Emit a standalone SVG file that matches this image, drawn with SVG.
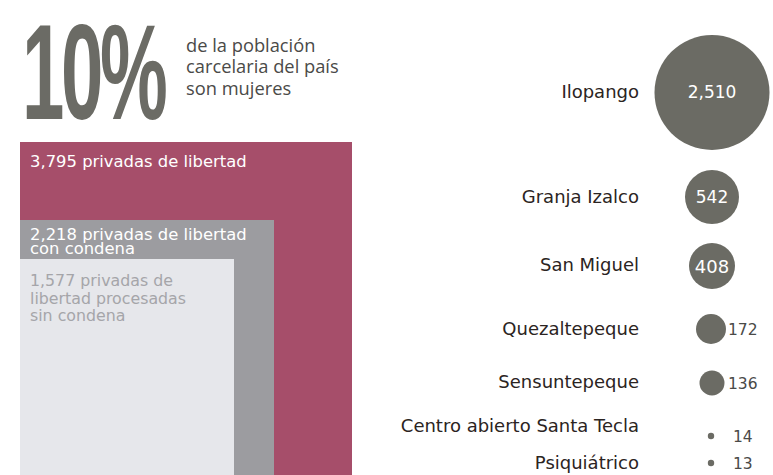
<svg xmlns="http://www.w3.org/2000/svg" width="773" height="475" viewBox="0 0 773 475">
<style>
.big{font-family:"Liberation Sans",Arial,sans-serif;font-weight:bold;fill:#6b6b65}
.intro{font-family:"Open Sans","Noto Sans",sans-serif;font-size:18.3px;fill:#4a4a48}
.bar{font-family:"DejaVu Sans","Noto Sans",sans-serif;font-size:16.4px}
.bar2{font-family:"DejaVu Sans","Noto Sans",sans-serif;font-size:15.8px}
.lbl{font-family:"DejaVu Sans","Noto Sans",sans-serif;font-size:18px;fill:#2b2422;text-anchor:end}
.num{font-family:"DejaVu Sans","Noto Sans",sans-serif;fill:#ffffff;text-anchor:middle}
.sm{font-family:"DejaVu Sans","Noto Sans",sans-serif;font-size:15.5px;fill:#4a4a48}
.dot{fill:#6b6b64}
</style>
<g id="headline">
<text class="big" transform="translate(22,119) scale(0.56,1)" font-size="136" letter-spacing="-6">10%</text>
<text class="intro" x="186" y="52">de la población</text>
<text class="intro" x="186" y="73">carcelaria del país</text>
<text class="intro" x="186" y="95">son mujeres</text>
</g>
<g id="total">
<rect x="20" y="142" width="332" height="333" fill="#a64e6a"/>
<text class="bar" x="30" y="167" fill="#ffffff">3,795 privadas de libertad</text>
</g>
<g id="condena">
<rect x="20" y="220" width="254" height="255" fill="#9c9ca0"/>
<text class="bar" x="30" y="240" fill="#ffffff">2,218 privadas de libertad</text>
<text class="bar" x="30" y="254" fill="#ffffff">con condena</text>
</g>
<g id="procesadas">
<rect x="20" y="259" width="214" height="216" fill="#e6e7eb"/>
<text class="bar2" x="30" y="286" fill="#a5a5a9">1,577 privadas de</text>
<text class="bar2" x="30" y="304" fill="#a5a5a9">libertad procesadas</text>
<text class="bar2" x="30" y="321" fill="#a5a5a9">sin condena</text>
</g>
<g id="ilopango">
<text class="lbl" x="639" y="98">Ilopango</text>
<circle class="dot" cx="712" cy="92.5" r="57.5"/>
<text class="num" x="712" y="98" font-size="17">2,510</text>
</g>
<g id="granja-izalco">
<text class="lbl" x="639" y="203">Granja Izalco</text>
<circle class="dot" cx="712" cy="197" r="27"/>
<text class="num" x="712" y="203" font-size="17">542</text>
</g>
<g id="san-miguel">
<text class="lbl" x="639" y="271">San Miguel</text>
<circle class="dot" cx="712" cy="266" r="23"/>
<text class="num" x="712" y="273" font-size="18">408</text>
</g>
<g id="quezaltepeque">
<text class="lbl" x="639" y="335">Quezaltepeque</text>
<circle class="dot" cx="711" cy="329" r="15"/>
<text class="sm" x="728" y="335">172</text>
</g>
<g id="sensuntepeque">
<text class="lbl" x="639" y="388">Sensuntepeque</text>
<circle class="dot" cx="712" cy="383" r="12.5"/>
<text class="sm" x="728" y="389">136</text>
</g>
<g id="santa-tecla">
<text class="lbl" x="639" y="432">Centro abierto Santa Tecla</text>
<circle class="dot" cx="711" cy="436" r="3.2"/>
<text class="sm" x="733" y="442">14</text>
</g>
<g id="psiquiatrico">
<text class="lbl" x="639" y="469">Psiquiátrico</text>
<circle class="dot" cx="711" cy="463" r="3.2"/>
<text class="sm" x="733" y="469">13</text>
</g>
<g id="connectors"/>
</svg>
